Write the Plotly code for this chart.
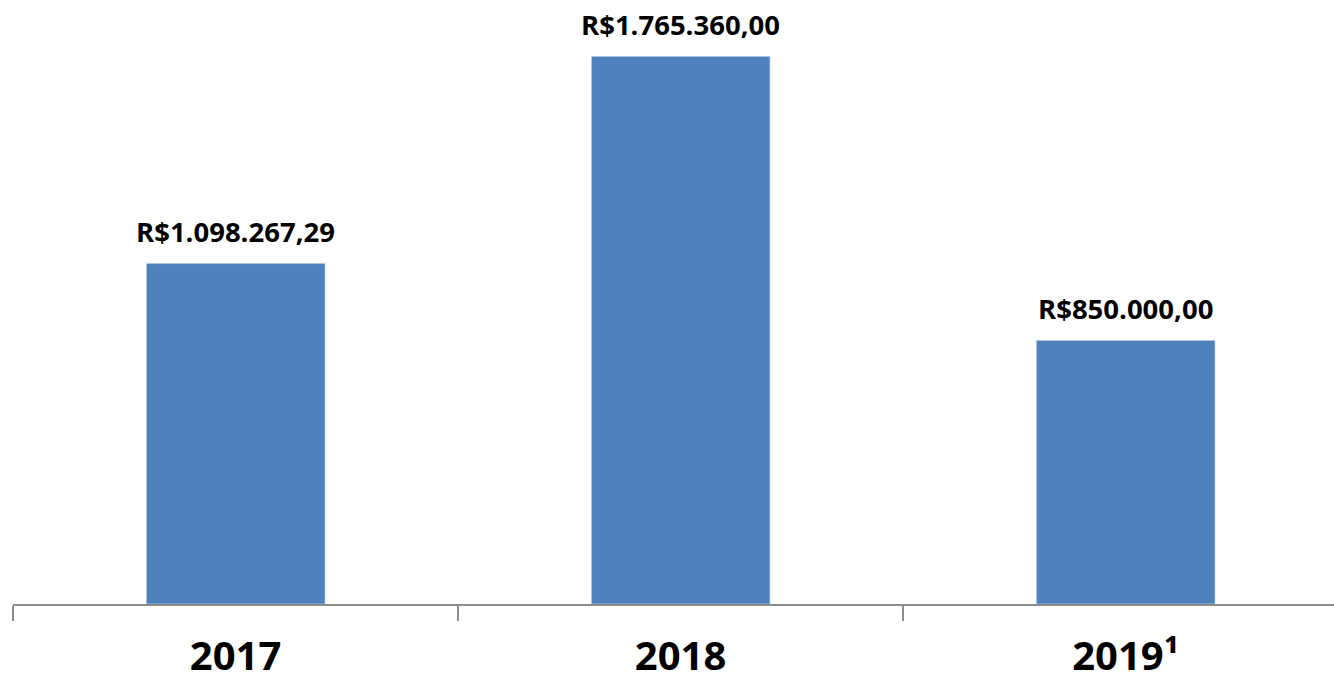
import plotly.graph_objects as go

# Annual amounts (R$)
years = ["2017", "2018", "2019¹"]
values = [1098267.29, 1765360.00, 850000.00]
labels = ["R$1.098.267,29", "R$1.765.360,00", "R$850.000,00"]

BAR_COLOR = "#4f81bd"
FONT = "Open Sans, Noto Sans, DejaVu Sans, sans-serif"

x_pos = list(range(len(years)))

fig = go.Figure()
fig.add_trace(go.Bar(
    x=x_pos,
    y=values,
    width=0.4,
    marker=dict(color=BAR_COLOR, line=dict(color="#6f95c8", width=0.5)),
    hoverinfo="skip",
))

# Value labels above each bar
for xi, v, t in zip(x_pos, values, labels):
    fig.add_annotation(
        x=xi, y=v, text=f"<b>{t}</b>", showarrow=False,
        yanchor="bottom", yshift=12,
        font=dict(family=FONT, size=27.5, color="#000000"),
    )

fig.update_layout(
    width=1334, height=685,
    margin=dict(l=13, r=0, t=0, b=81, autoexpand=False),
    paper_bgcolor="white",
    plot_bgcolor="white",
    showlegend=False,
    bargap=0,
)

fig.update_xaxes(
    range=[-0.5, 2.4685],
    tickvals=x_pos,
    ticktext=[f"<b>{y}</b>" for y in years],
    ticks="",
    tickfont=dict(family=FONT, size=40, color="#000000"),
    showline=True, linecolor="#8c8c8c", linewidth=1.5,
    showgrid=False, zeroline=False,
    minor=dict(tickvals=[-0.5, 0.5, 1.5], ticks="outside", ticklen=15,
               tickcolor="#8c8c8c", tickwidth=1.5, showgrid=False),
    ticklabelstandoff=16,
    automargin=False,
)
fig.update_yaxes(
    range=[0, 604 * 3230],
    visible=False, showgrid=False, zeroline=False,
)

fig.write_html("out.html")
